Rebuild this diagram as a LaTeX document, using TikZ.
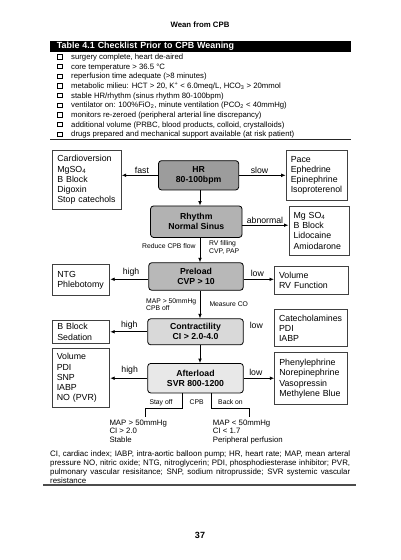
\documentclass[tikz,border=0pt]{standalone}
\usepackage{fontspec}
\setmainfont{Liberation Sans}
\usetikzlibrary{arrows.meta,calc,shadows}
\newcommand\fsz[2]{\fontsize{#1}{#2}\selectfont}
\definecolor{gA}{gray}{0.61}
\definecolor{gB}{gray}{0.70}
\definecolor{gC}{gray}{0.72}
\definecolor{gD}{gray}{0.85}
\definecolor{gE}{gray}{0.91}
\definecolor{edge}{gray}{0.25}
\begin{document}
\begin{tikzpicture}[x=1pt,y=-1pt,
  graybox/.style={draw=black, line width=0.8pt, rounded corners=3pt, align=center, font=\bfseries\fsz{8.7}{10}, inner sep=0pt},
  whitebox/.style={draw=edge, line width=0.9pt, align=left, font=\fsz{8.8}{10.2}, inner ysep=0pt, inner xsep=4.6pt, anchor=north west},
  arr/.style={draw=black, line width=0.9pt, -{Latex[length=4.5pt,width=3.8pt]}},
  plainline/.style={draw=black, line width=0.7pt},
  lbl/.style={font=\fsz{8.7}{10}, inner sep=0pt},
  sml/.style={font=\fsz{6.8}{7.7}, inner sep=0pt, align=left},
  chk/.style={draw=black, line width=0.6pt, fill=white, minimum size=4.2pt, inner sep=0pt, general shadow={fill=black, shadow xshift=0.8pt, shadow yshift=-0.8pt}},
  item/.style={font=\fsz{7.75}{9}, inner sep=0pt, anchor=base west},
]
\useasboundingbox (0,0) rectangle (400,560);
\fill[white] (0,0) rectangle (400,560);

% title
\node[font=\bfseries\fsz{7.8}{9}, inner sep=0pt] (title) at (200,24.3) {Wean from CPB};

% table header
\node[fill=black, text=white, anchor=north west, minimum height=11.4pt, text width=287.3pt, inner xsep=6.7pt, inner ysep=0pt, font=\bfseries\fsz{8.9}{10}, align=left] (bar) at (50,40.3) {Table 4.1 Checklist Prior to CPB Weaning};

% checklist
\foreach \i/\t in {0/{surgery complete, heart de-aired},
  1/{core temperature > 36.5 °C},
  2/{reperfusion time adequate (>8 minutes)},
  3/{metabolic milieu: HCT > 20, K\textsuperscript{+} < 6.0meq/L, HCO\textsubscript{3} > 20mmol},
  4/{stable HR/rhythm (sinus rhythm 80-100bpm)},
  5/{ventilator on: 100\%FiO\textsubscript{2}, minute ventilation (PCO\textsubscript{2} < 40mmHg)},
  6/{monitors re-zeroed (peripheral arterial line discrepancy)},
  7/{additional volume (PRBC, blood products, colloid, crystalloids)},
  8/{drugs prepared and mechanical support available (at risk patient)}} {
  \node[chk] (cb\i) at (59.8,{56.8+\i*9.65}) {};
  \node[item] (it\i) at (71,{59.6+\i*9.65}) {\t};
}
\draw[line width=0.8pt, draw=black!85] (50,138.9) -- (350.7,138.9);

% central boxes
\node[graybox, fill=gA, minimum width=80.2pt, minimum height=29.3pt] (hr) at (198.6,175.3) {HR\\80-100bpm};
\node[graybox, fill=gB, minimum width=91.5pt, minimum height=31.5pt] (rhythm) at (196.3,221.7) {Rhythm\\Normal Sinus};
\node[graybox, fill=gC, minimum width=94.5pt, minimum height=27.5pt] (preload) at (196,276.5) {Preload\\CVP > 10};
\node[graybox, fill=gD, minimum width=95.6pt, minimum height=26pt] (contr) at (195.5,331.8) {Contractility\\CI > 2.0-4.0};
\node[graybox, fill=gE, minimum width=95.6pt, minimum height=29.5pt] (after) at (195.5,378.2) {Afterload\\SVR 800-1200};

% side boxes
\node[whitebox, text width=59.3pt, minimum height=59.3pt] (cardio) at (52.3,150) {Cardioversion\\MgSO\textsubscript{4}\\B Block\\Digoxin\\Stop catechols};
\node[whitebox, text width=52.3pt, minimum height=50pt] (pace) at (285.7,150) {Pace\\Ephedrine\\Epinephrine\\Isoproterenol};
\node[whitebox, text width=50.8pt, minimum height=49.3pt] (mg) at (288.5,205.7) {Mg SO\textsubscript{4}\\B Block\\Lidocaine\\Amiodarone};
\node[whitebox, text width=47.8pt, minimum height=30.7pt] (ntg) at (52.3,264.3) {NTG\\Phlebotomy};
\node[whitebox, text width=65.1pt, minimum height=28.6pt] (vol) at (274,265.7) {Volume\\RV Function};
\node[whitebox, text width=47.8pt, minimum height=22.7pt] (bb) at (52.3,320) {B Block\\Sedation};
\node[whitebox, text width=63.5pt, minimum height=36.7pt] (cat) at (274,309.3) {Catecholamines\\PDI\\IABP};
\node[whitebox, text width=48.4pt, minimum height=58.4pt] (pvol) at (51.7,348.3) {Volume\\PDI\\SNP\\IABP\\NO (PVR)};
\node[whitebox, text width=63.2pt, minimum height=52pt] (phen) at (274.3,352.3) {Phenylephrine\\Norepinephrine\\Vasopressin\\Methylene Blue};

% vertical arrows
\coordinate (ax) at (200,0);
\draw[arr] (hr.south -| ax) -- (rhythm.north -| ax);
\draw[arr] (rhythm.south -| ax) -- (preload.north -| ax);
\draw[arr] (preload.south -| ax) -- (contr.north -| ax);
\draw[arr] (contr.south -| ax) -- (after.north -| ax);

% side arrows
\draw[arr] (hr.west) -- (hr.west -| cardio.east);
\draw[arr] (hr.east) -- (hr.east -| pace.west);
\draw[arr] ([yshift=-3.5pt]rhythm.east) -- ([yshift=-3.5pt]rhythm.east -| mg.west);
\draw[arr] ([yshift=-2.8pt]preload.west) -- ([yshift=-2.8pt]preload.west -| ntg.east);
\draw[arr] ([yshift=-2.8pt]preload.east) -- ([yshift=-2.8pt]preload.east -| vol.west);
\draw[arr] (contr.west) -- (contr.west -| bb.east);
\draw[arr] (after.west) -- (after.west -| pvol.east);
\draw[arr] (after.east) -- (after.east -| phen.west);

% arrow labels
\node[lbl] (lfast) at (142,170.7) {fast};
\node[lbl] (lslow) at (259.5,170.3) {slow};
\node[lbl] (labn) at (265,220.7) {abnormal};
\node[lbl] (lh1) at (131,272.3) {high};
\node[lbl] (ll1) at (257.3,273.5) {low};
\node[lbl] (lh2) at (129.3,325) {high};
\node[lbl] (ll2) at (256.3,325.5) {low};
\node[lbl] (lh3) at (129.7,370.7) {high};
\node[lbl] (ll3) at (255.8,372.8) {low};

% small labels
\node[sml, anchor=east] (lred) at (195.7,246) {Reduce CPB flow};
\node[sml, anchor=north west] (lrv) at (209,240.8) {RV filling\\CVP, PAP};
\node[sml, anchor=north west] (lmap) at (146,298.3) {MAP > 50mmHg\\CPB off};
\node[sml, anchor=west] (lmeas) at (209.3,304) {Measure CO};
\node[sml] (lstay) at (161,402.3) {Stay off};
\node[sml] (lcpb) at (196.7,402.3) {CPB};
\node[sml] (lback) at (230.5,402.3) {Back on};

% branch lines
\coordinate (sl1) at (182.3,408.3);
\coordinate (sl2) at (145.7,408.3);
\coordinate (sl3) at (145.7,417);
\coordinate (sr1) at (211.5,408.3);
\coordinate (sr2) at (249.3,408.3);
\coordinate (sr3) at (249.3,417);
\draw[plainline] (after.south -| sl1) -- (sl1) -- (sl2) -- (sl3);
\draw[plainline] (after.south -| sr1) -- (sr1) -- (sr2) -- (sr3);

\node[font=\fsz{7.8}{8.9}, inner sep=0pt, align=left, anchor=north west] (outl) at (109.3,419.4) {MAP > 50mmHg\\CI > 2.0\\Stable};
\node[font=\fsz{7.8}{8.9}, inner sep=0pt, align=left, anchor=north west] (outr) at (212.7,419.4) {MAP < 50mmHg\\CI < 1.7\\Peripheral perfusion};

% caption
\node[font=\fsz{7.9}{9.1}, inner sep=0pt, text width=300pt, align=justify, anchor=north west] (cap) at (50,450.3) {CI, cardiac index; IABP, intra-aortic balloon pump; HR, heart rate; MAP, mean arteral\linebreak pressure NO, nitric oxide; NTG, nitroglycerin; PDI, phosphodiesterase inhibitor; PVR,\linebreak pulmonary vascular resisitance; SNP, sodium nitroprusside; SVR systemic vascular\linebreak resistance};
\draw[draw=black!70, line width=1.3pt] (43.3,485) -- (356,485);

% page number
\node[font=\bfseries\fsz{9}{10}, inner sep=0pt] (page) at (200,535) {37};
\end{tikzpicture}
\end{document}
